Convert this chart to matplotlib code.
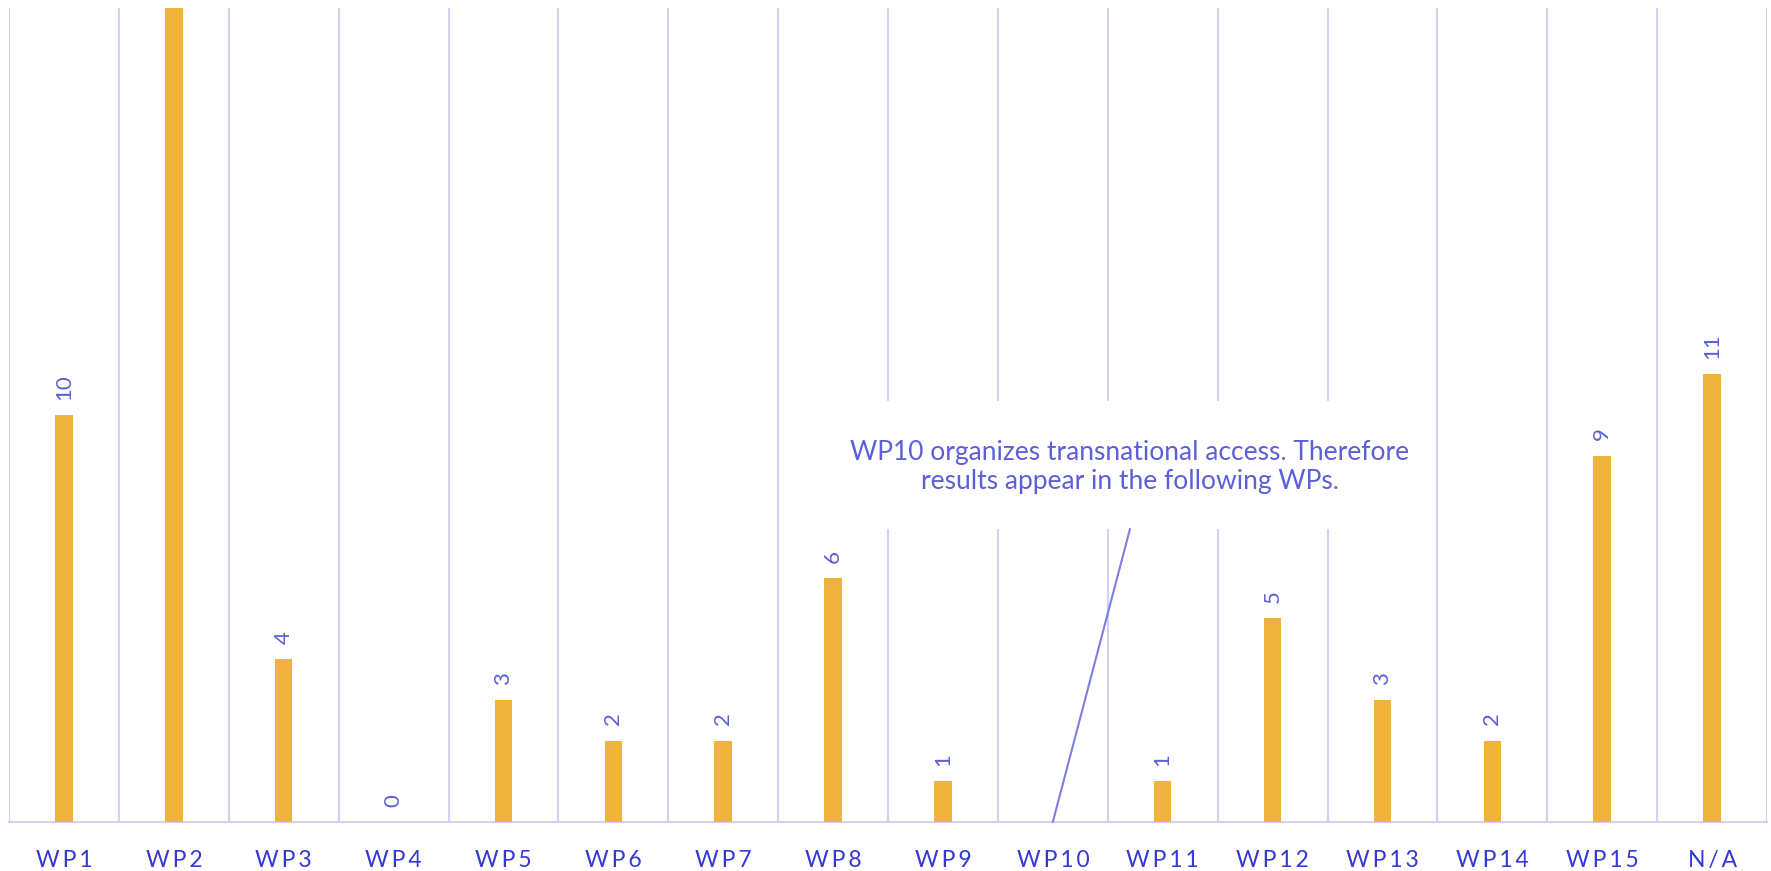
import numpy as np
import matplotlib
matplotlib.use("Agg")
import matplotlib.pyplot as plt
from matplotlib.patches import Rectangle

categories = ["WP1", "WP2", "WP3", "WP4", "WP5", "WP6", "WP7", "WP8",
              "WP9", "WP10", "WP11", "WP12", "WP13", "WP14", "WP15", "N/A"]
values = [10, 24, 4, 0, 3, 2, 2, 6, 1, np.nan, 1, 5, 3, 2, 9, 11]
note = "WP10 organizes transnational access. Therefore\nresults appear in the following WPs."
note_target = "WP10"

plt.rcParams['font.family'] = ['Lato', 'DejaVu Sans']

W, H = 1771, 871
fig = plt.figure(figsize=(W / 100, H / 100), dpi=100)
left, right, top, bottom = 9, 1767, 8, 822
ax = fig.add_axes([left / W, (H - bottom) / H, (right - left) / W, (bottom - top) / H])

bar_color = "#F0B43C"
grid_color = "#D2D2F4"
tick_color = "#3438D4"
label_color = "#5C60D8"

x = np.arange(len(categories))
vals = np.array(values, dtype=float)
ax.bar(x, np.nan_to_num(vals), width=0.16, color=bar_color, zorder=3)

ax.set_xlim(-0.5, len(categories) - 0.5)
ax.set_ylim(0, 20)

# vertical gridlines at category boundaries
ax.set_xticks(np.arange(-0.5, len(categories), 1.0), minor=True)
ax.grid(True, which="minor", axis="x", color=grid_color, linewidth=1.5, zorder=0)
ax.tick_params(axis="x", which="minor", length=0)

def spaced(s):
    return "\u2009".join(s)

ax.set_xticks(x)
ax.set_xticklabels([spaced(c) for c in categories], fontsize=16.5, color=tick_color)
ax.tick_params(axis="x", which="major", length=0, pad=20)
ax.set_yticks([])

for s in ["top", "left", "right"]:
    ax.spines[s].set_visible(False)
ax.spines["bottom"].set_color(grid_color)
ax.spines["bottom"].set_linewidth(1.5)

for xi, v in zip(x, vals):
    if np.isnan(v):
        continue
    ax.annotate(f"{int(v)}", xy=(xi, v), xytext=(0, 11), textcoords="offset points",
                rotation=90, ha="center", va="bottom", fontsize=16,
                color=label_color, annotation_clip=True, clip_on=True)

# annotation box
bx0, bx1 = (840 - left) / (right - left), (1420 - left) / (right - left)
by0, by1 = (bottom - 529) / (bottom - top), (bottom - 401) / (bottom - top)
ax.add_patch(Rectangle((bx0, by0), bx1 - bx0, by1 - by0, transform=ax.transAxes,
                       facecolor="white", edgecolor="none", zorder=4))
ti = categories.index(note_target)
ax.annotate("", xy=(ti, 0), xycoords="data", xytext=((bx0 + bx1) / 2, by0),
            textcoords="axes fraction",
            arrowprops=dict(arrowstyle="-", color="#7B7FE2", lw=1.5, shrinkA=0, shrinkB=0),
            zorder=5)
ax.text((bx0 + bx1) / 2, (by0 + by1) / 2 - 0.003, note, transform=ax.transAxes,
        ha="center", va="center", fontsize=19, color=label_color, zorder=6,
        linespacing=1.2)

fig.savefig("out.png", dpi=100)
